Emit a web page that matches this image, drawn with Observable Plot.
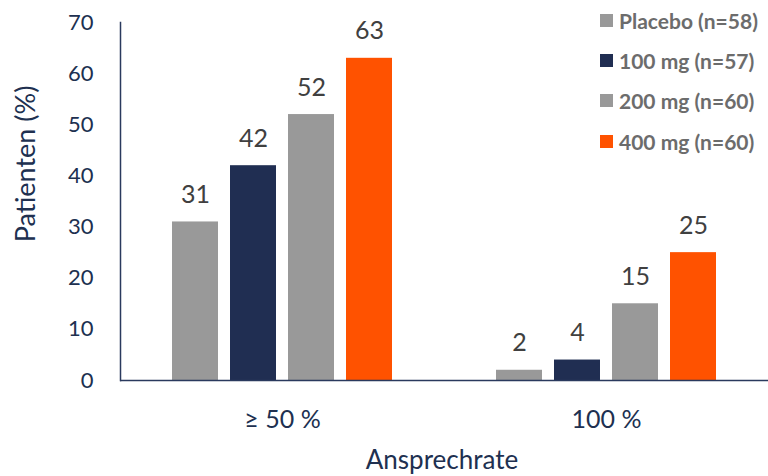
<!DOCTYPE html>
<html>
<head>
<meta charset="utf-8">
<script src="https://cdn.jsdelivr.net/npm/d3@7"></script>
<script src="https://cdn.jsdelivr.net/npm/@observablehq/plot@0.6"></script>
<style>
  html, body { margin: 0; padding: 0; background: #fff; }
  #wrap { position: relative; width: 768px; height: 476px; font-family: Lato, "Open Sans", sans-serif; }
  #legend { position: absolute; left: 600px; top: 0px; }
  .item { display: flex; align-items: center; height: 40.3px; font-family: Lato, sans-serif; font-weight: bold; font-size: 21px; color: #6c6c6c; white-space: nowrap; }
  .sw { width: 13px; height: 13px; margin-right: 6px; flex: none; }
</style>
</head>
<body>
<div id="wrap"></div>
<script>
const groups = ["≥ 50 %", "100 %"];
const series = ["Placebo (n=58)", "100 mg (n=57)", "200 mg (n=60)", "400 mg (n=60)"];
const colors = ["#999999", "#202e52", "#999999", "#ff5200"];
const values50 = [31, 42, 52, 63];
const values100 = [2, 4, 15, 25];
const yTicks = [0, 10, 20, 30, 40, 50, 60, 70];

const data = [];
series.forEach((s, i) => {
  data.push({group: groups[0], series: s, value: values50[i]});
  data.push({group: groups[1], series: s, value: values100[i]});
});

const navy = "#203050";
const chart = Plot.plot({
  width: 768,
  height: 476,
  marginLeft: 120,
  marginRight: 0,
  marginTop: 22,
  marginBottom: 96,
  style: {fontFamily: "Lato, 'Open Sans', sans-serif", background: "#fff"},
  fx: {domain: groups, padding: 0, label: null},
  x: {domain: series, paddingInner: 0.21, paddingOuter: 0.875, axis: null},
  y: {domain: [0, 70], ticks: yTicks, label: null},
  color: {domain: series, range: colors},
  marks: [
    Plot.axisY({ticks: yTicks, tickSize: 0, tickPadding: 27, fontSize: 22, color: navy, label: null, facetAnchor: "left"}),
    Plot.axisFx({anchor: "bottom", tickSize: 0, tickPadding: 30, fontSize: 25, color: navy, label: null}),
    Plot.barY(data, {fx: "group", x: "series", y: "value", fill: "series"}),
    Plot.text(data, {fx: "group", x: "series", y: "value", text: d => String(d.value), dy: -27, fontSize: 25, fill: "#404040"}),
    Plot.ruleY([0], {stroke: "#2a3a5e", strokeWidth: 1.5}),
    Plot.frame({anchor: "left", stroke: "#2a3a5e", strokeWidth: 1.5, facetAnchor: "left"})
  ]
});

const wrap = document.getElementById("wrap");
wrap.appendChild(chart);

// Axis titles
const svg = d3.select(chart);
svg.append("text")
  .attr("transform", "translate(35,164) rotate(-90)")
  .attr("text-anchor", "middle")
  .attr("font-size", 27)
  .attr("fill", navy)
  .text("Patienten (%)");
svg.append("text")
  .attr("x", 442)
  .attr("y", 469)
  .attr("text-anchor", "middle")
  .attr("font-size", 26)
  .attr("fill", navy)
  .text("Ansprechrate");

// Legend
const legend = document.createElement("div");
legend.id = "legend";
series.forEach((s, i) => {
  const it = document.createElement("div");
  it.className = "item";
  const sw = document.createElement("div");
  sw.className = "sw";
  sw.style.background = colors[i];
  const t = document.createElement("span");
  t.textContent = s;
  it.appendChild(sw); it.appendChild(t);
  legend.appendChild(it);
});
wrap.appendChild(legend);
</script>
</body>
</html>
